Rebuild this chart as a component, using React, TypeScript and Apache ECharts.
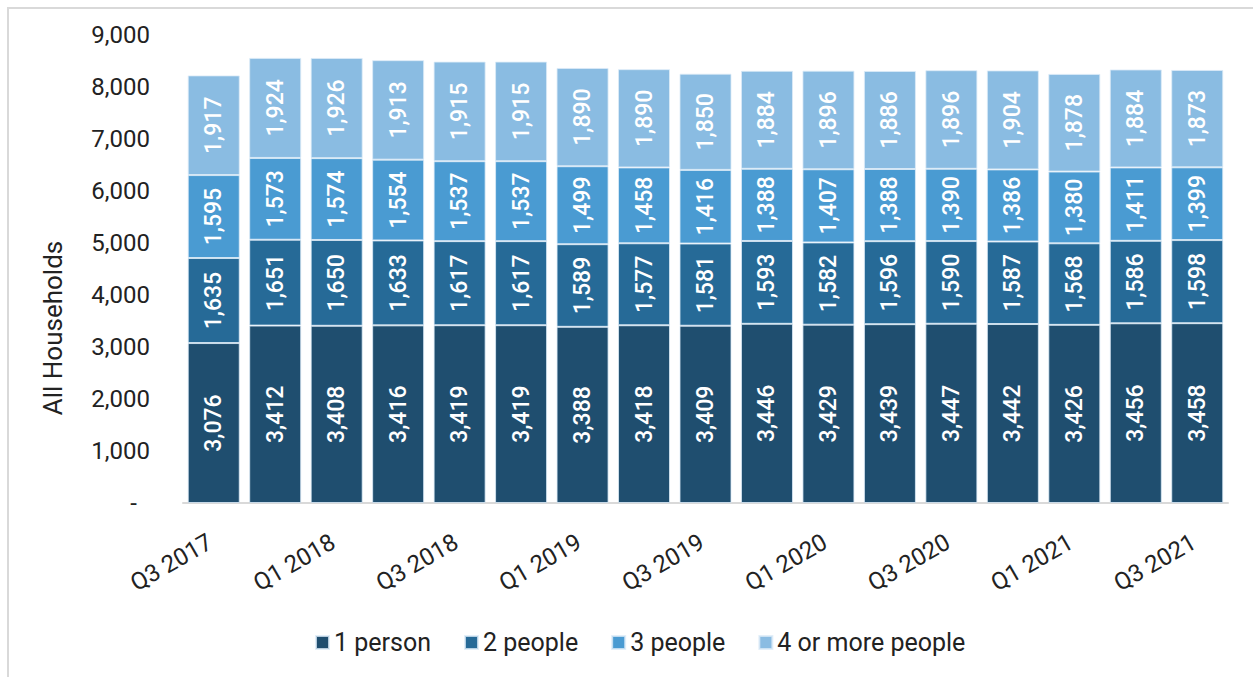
import React, { useEffect, useRef } from "react";
import * as echarts from "echarts";

const categories = [
  "Q3 2017", "Q4 2017", "Q1 2018", "Q2 2018", "Q3 2018", "Q4 2018",
  "Q1 2019", "Q2 2019", "Q3 2019", "Q4 2019", "Q1 2020", "Q2 2020",
  "Q3 2020", "Q4 2020", "Q1 2021", "Q2 2021", "Q3 2021",
];
const onePerson = [3076, 3412, 3408, 3416, 3419, 3419, 3388, 3418, 3409, 3446, 3429, 3439, 3447, 3442, 3426, 3456, 3458];
const twoPeople = [1635, 1651, 1650, 1633, 1617, 1617, 1589, 1577, 1581, 1593, 1582, 1596, 1590, 1587, 1568, 1586, 1598];
const threePeople = [1595, 1573, 1574, 1554, 1537, 1537, 1499, 1458, 1416, 1388, 1407, 1388, 1390, 1386, 1380, 1411, 1399];
const fourPlus = [1917, 1924, 1926, 1913, 1915, 1915, 1890, 1890, 1850, 1884, 1896, 1886, 1896, 1904, 1878, 1884, 1873];
const seriesNames = ["1 person", "2 people", "3 people", "4 or more people"];
const colors = ["#1F4E6F", "#266A97", "#4A9BD2", "#8ABCE2"];
const yAxisTitle = "All Households";

const FONT = "Roboto, 'Noto Sans', sans-serif";

export default function App() {
  const ref = useRef<HTMLDivElement>(null);
  useEffect(() => {
    if (!ref.current) return;
    const chart = echarts.init(ref.current, null, { renderer: "svg" });
    const datasets = [onePerson, twoPeople, threePeople, fourPlus];
    chart.setOption({
      animation: false,
      textStyle: { fontFamily: FONT },
      grid: { left: 183, right: 25, top: 35, bottom: 174, containLabel: false },
      legend: {
        left: 310,
        top: 625,
        itemWidth: 13,
        itemHeight: 13,
        itemGap: 33,
        icon: "rect",
        textStyle: { fontSize: 25, color: "#222", fontFamily: FONT },
        data: seriesNames,
      },
      xAxis: {
        type: "category",
        data: categories,
        axisLine: { lineStyle: { color: "#d9d9d9", width: 2 } },
        axisTick: { show: false },
        axisLabel: {
          interval: 1,
          rotate: 30,
          margin: 35,
          fontSize: 24,
          color: "#222",
          fontFamily: FONT,
          padding: [0, 4, 0, 0],
        },
      },
      yAxis: {
        type: "value",
        min: 0,
        max: 9000,
        interval: 1000,
        splitLine: { show: false },
        axisLine: { show: false },
        axisTick: { show: false },
        axisLabel: {
          margin: 33,
          fontSize: 24,
          color: "#222",
          fontFamily: FONT,
          formatter: (v: number) =>
            v === 0 ? "{d|-}" : v.toLocaleString("en-US"),
          rich: { d: { fontSize: 24, color: "#222", padding: [0, 13, 0, 0] } },
        },
      },
      graphic: [
        { type: "rect", shape: { x: 7, y: 7, width: 1260, height: 2 }, style: { fill: "#d9d9d9" } },
        { type: "rect", shape: { x: 7, y: 7, width: 2, height: 680 }, style: { fill: "#d9d9d9" } },
        {
          type: "text",
          x: 53,
          y: 328,
          rotation: Math.PI / 2,
          style: {
            text: yAxisTitle,
            fontSize: 26,
            fontFamily: FONT,
            fill: "#222",
            align: "center",
            verticalAlign: "middle",
          },
        },
      ],
      series: datasets.map((d, i) => ({
        name: seriesNames[i],
        type: "bar",
        stack: "total",
        data: d,
        barWidth: 52,
        itemStyle: { color: colors[i], borderColor: "rgba(220,235,248,0.8)", borderWidth: 1 },
        label: {
          show: true,
          position: "inside",
          rotate: 90,
          color: "#fff",
          fontSize: 23,
          fontWeight: 500,
          fontFamily: FONT,
          formatter: (p: any) => Number(p.value).toLocaleString("en-US"),
        },
      })),
    });
    return () => chart.dispose();
  }, []);
  return (
    <div
      ref={ref}
      style={{ position: "fixed", left: 0, top: 0, width: 1253, height: 677, background: "#fff" }}
    />
  );
}
